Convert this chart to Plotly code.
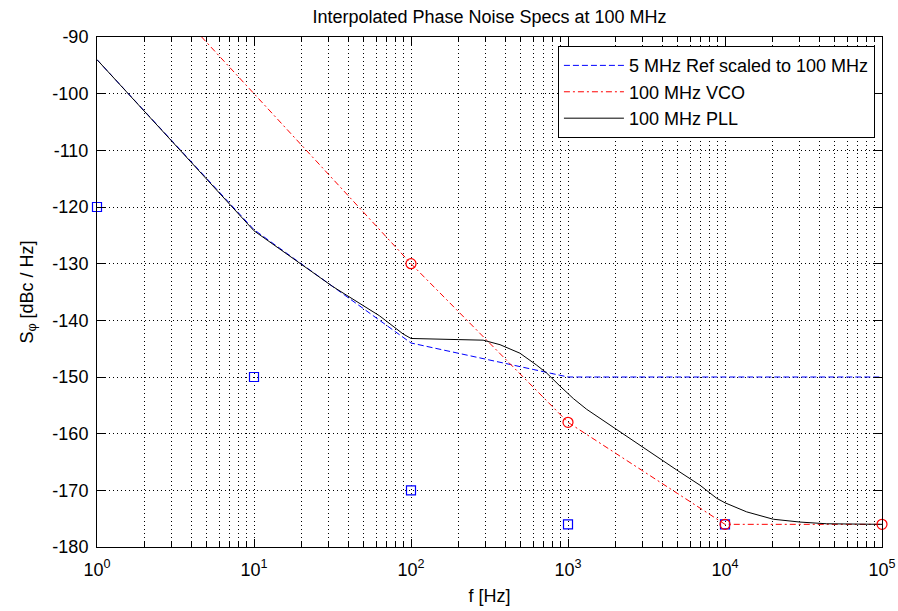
import plotly.graph_objects as go

# ---------------- data ----------------
# 5 MHz reference, spec points (unscaled) and line scaled to 100 MHz
ref_spec_f = [1, 10, 100, 1000, 10000]
ref_spec_db = [-120, -150, -170, -176, -176]
ref_line_f = [1, 10, 100, 1000, 10000, 100000]
ref_line_db = [-94, -124, -144, -150, -150, -150]

# 100 MHz VCO
vco_spec_f = [100, 1000, 10000, 100000]
vco_spec_db = [-130, -158, -176, -176]
vco_line_f = [1, 10, 100, 1000, 10000, 100000]
vco_line_db = [-70, -100, -130, -158, -176, -176]

# 100 MHz PLL
pll_f = [1, 10, 31.6, 63, 89, 100, 200, 288, 369, 494, 631, 731, 889, 1081,
         1315, 1600, 1945, 2944, 3954, 4920, 6934, 8851, 10000, 13740, 20280,
         30060, 44460, 100000]
pll_db = [-94, -124.2, -134.0, -139.2, -142.4, -143.2, -143.4, -143.5, -144.3,
          -145.8, -147.9, -149.3, -151.6, -153.8, -155.7, -157.3, -158.8,
          -162.3, -164.6, -166.4, -169.1, -171.4, -172.2, -173.8, -175.1,
          -175.6, -175.9, -176.0]

x_major = [1, 10, 100, 1000, 10000, 100000]
x_major_text = ["10<sup>0</sup>", "10<sup>1</sup>", "10<sup>2</sup>",
                "10<sup>3</sup>", "10<sup>4</sup>", "10<sup>5</sup>"]
x_minor = [m * d for d in [1, 10, 100, 1000, 10000] for m in range(2, 10)]
y_ticks = [-180, -170, -160, -150, -140, -130, -120, -110, -100, -90]
y_ticktext = ["-180", "-170", "-160", "-150", "-140", "-130", "-120", "-110",
              "-100", "-90"]

FONT = "Liberation Sans, Arial, sans-serif"

fig = go.Figure()

fig.add_trace(go.Scatter(x=ref_line_f, y=ref_line_db, mode="lines",
                         name="5 MHz Ref scaled to 100 MHz",
                         line=dict(color="#0000ff", width=1, dash="6px,3px")))
fig.add_trace(go.Scatter(x=vco_line_f, y=vco_line_db, mode="lines",
                         name="100 MHz VCO",
                         line=dict(color="#ff0000", width=1, dash="6px,3px,2px,3px")))
fig.add_trace(go.Scatter(x=pll_f, y=pll_db, mode="lines",
                         name="100 MHz PLL",
                         line=dict(color="#000000", width=1)))
fig.add_trace(go.Scatter(x=ref_spec_f, y=ref_spec_db, mode="markers",
                         showlegend=False, cliponaxis=False,
                         marker=dict(symbol="square-open", size=9,
                                     color="#0000ff", line=dict(width=1.2))))
fig.add_trace(go.Scatter(x=vco_spec_f, y=vco_spec_db, mode="markers",
                         showlegend=False, cliponaxis=False,
                         marker=dict(symbol="circle-open", size=10,
                                     color="#ff0000", line=dict(width=1.2))))

grid_dash = "1px,3px"

fig.update_layout(
    width=898, height=611,
    margin=dict(l=97, r=16, t=37, b=64, autoexpand=False),
    paper_bgcolor="white", plot_bgcolor="white",
    font=dict(family=FONT, size=18, color="black"),
    title=dict(text="Interpolated Phase Noise Specs at 100 MHz",
               x=(97 + 882) / 2 / 898, xanchor="center",
               y=1 - 17 / 611, yanchor="middle",
               font=dict(size=18, family=FONT)),
    legend=dict(x=0.991, y=0.982, xanchor="right", yanchor="top",
                bgcolor="white", bordercolor="black", borderwidth=1,
                font=dict(size=18, family=FONT), tracegroupgap=0,
                itemwidth=60),
    showlegend=True,
)

fig.update_xaxes(
    type="log", range=[0, 5], automargin=False,
    tickmode="array", tickvals=x_major, ticktext=x_major_text,
    ticks="inside", ticklen=8, tickcolor="black", tickwidth=1,
    showline=True, linecolor="black", linewidth=1, mirror="ticks",
    showgrid=True, gridcolor="black", gridwidth=1, griddash=grid_dash,
    minor=dict(tickmode="array", tickvals=x_minor, ticks="inside", ticklen=5,
               tickcolor="black", showgrid=True, gridcolor="black",
               gridwidth=1, griddash=grid_dash),
    zeroline=False, ticklabelstandoff=6,
    tickfont=dict(size=18, family=FONT),
    title=dict(text="f [Hz]", font=dict(size=18, family=FONT), standoff=10),
)
fig.update_yaxes(
    range=[-180, -90], automargin=False,
    tickmode="array", tickvals=y_ticks, ticktext=y_ticktext,
    ticks="inside", ticklen=8, tickcolor="black", tickwidth=1,
    showline=True, linecolor="black", linewidth=1, mirror="ticks",
    showgrid=True, gridcolor="black", gridwidth=1, griddash=grid_dash,
    zeroline=False, ticklabelstandoff=4,
    tickfont=dict(size=18, family=FONT),
    title=dict(text="S<sub>φ</sub> [dBc / Hz]", font=dict(size=18, family=FONT),
               standoff=14),
)

fig.write_html("out.html")
